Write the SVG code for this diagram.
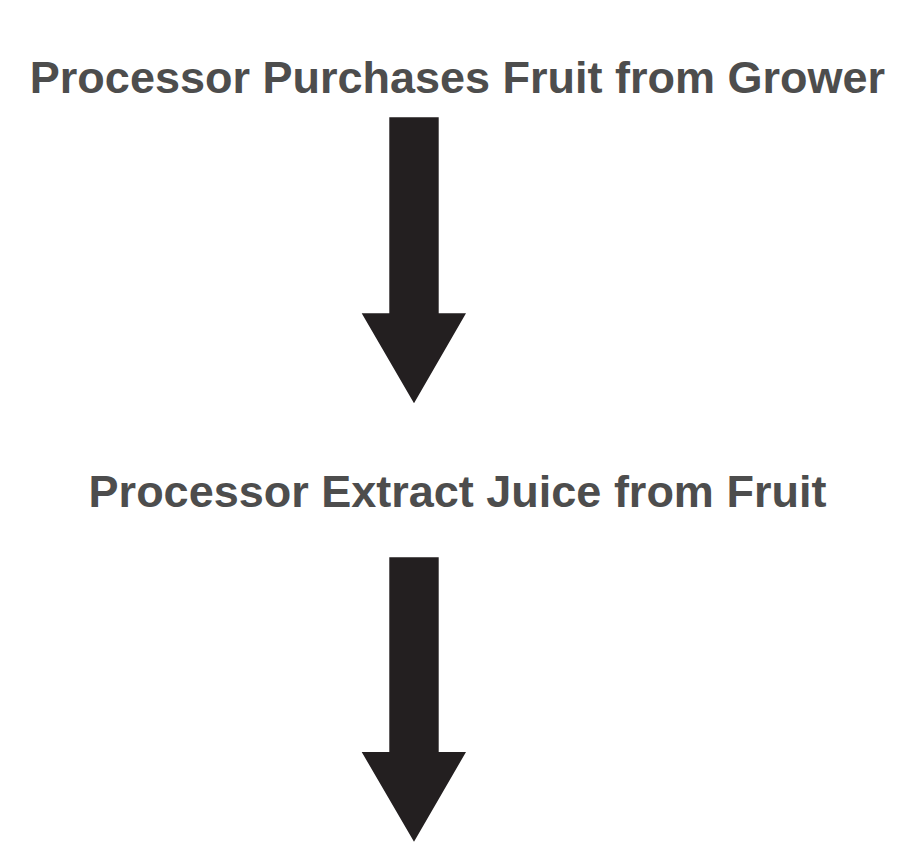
<svg xmlns="http://www.w3.org/2000/svg" width="901" height="866" viewBox="0 0 901 866">
<style>
.lbl{font-family:"Liberation Sans",Arial,sans-serif;font-weight:bold;font-size:45px;fill:#4d4d4d;text-anchor:middle}
.arr{fill:#231f20}
</style>
<rect width="901" height="866" fill="#ffffff"/>
<g id="node1"><text class="lbl" x="457.5" y="93">Processor Purchases Fruit from Grower</text></g>
<g id="node2"><text class="lbl" x="457.5" y="507">Processor Extract Juice from Fruit</text></g>
<g id="connectors">
<path class="arr" d="M389.3,117.3 H438.7 V313.3 H466 L414,403.3 L361.7,313.3 H389.3 Z"/>
<path class="arr" d="M389.3,557.3 H438.7 V752 H466 L414,841.7 L361.7,752 H389.3 Z"/>
</g>
</svg>
